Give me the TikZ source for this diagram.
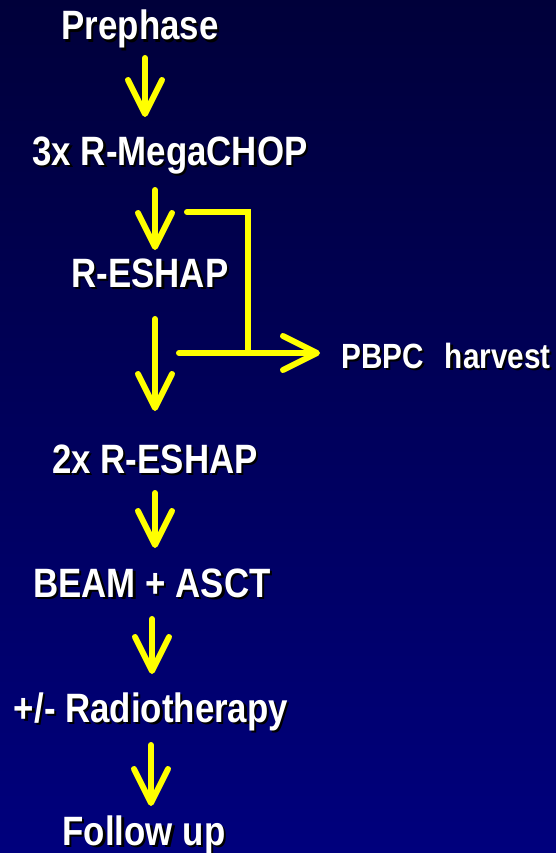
\documentclass[tikz,border=0pt]{standalone}
\usepackage{fontspec}
\setmainfont{Liberation Sans}[FakeStretch=0.85]
\usetikzlibrary{arrows.meta}
\definecolor{bgtop}{RGB}{0,0,58}
\definecolor{bgbot}{RGB}{0,0,125}
\definecolor{arrowyellow}{RGB}{255,255,0}
\newcommand\shadowtext[1]{\makebox[0pt][l]{\kern2.2pt\raisebox{-2.2pt}{\color{black}#1}}#1}
\begin{document}
\begin{tikzpicture}[x=1pt,y=-1pt,
  label/.style={anchor=base,inner sep=0pt,text=white,font=\bfseries\fontsize{41}{41}\selectfont},
  smalllabel/.style={label,font=\bfseries\fontsize{35}{35}\selectfont},
  flow/.style={draw=arrowyellow,line width=6pt,line cap=round,line join=round,
    -{Straight Barb[length=34pt,width=34pt,round]}},
  branch/.style={draw=arrowyellow,line width=6pt,line cap=round,line join=miter}]
\shade[top color=bgtop,bottom color=bgbot] (0,0) rectangle (556,853);
\useasboundingbox (0,0) rectangle (556,853);
\node[label] (pre)  at (140,40)  {\shadowtext{Prephase}};
\node[label] (mega) at (170,165) {\shadowtext{3x R-MegaCHOP}};
\node[label] (esh)  at (150,287) {\shadowtext{R-ESHAP}};
\node[smalllabel] (pbpc) at (446,368) {\shadowtext{PBPC\hspace{0.6em}harvest}};
\node[label] (esh2) at (155,473) {\shadowtext{2x R-ESHAP}};
\node[label] (beam) at (152,597) {\shadowtext{BEAM + ASCT}};
\node[label] (radio) at (151,722) {\shadowtext{+/- Radiotherapy}};
\node[label] (fol)  at (144,845) {\shadowtext{Follow up}};
% connector end points
\coordinate (a1s) at (145,58);  \coordinate (a1e) at (145,117);
\coordinate (a2s) at (155,190); \coordinate (a2e) at (155,250);
\coordinate (a3s) at (155,319); \coordinate (a3e) at (155,411);
\coordinate (a4s) at (155,493); \coordinate (a4e) at (155,548);
\coordinate (a5s) at (152,619); \coordinate (a5e) at (152,674);
\coordinate (a6s) at (151,745); \coordinate (a6e) at (151,806);
\coordinate (bs) at (187,212); \coordinate (bc) at (248,212); \coordinate (bj) at (248,353);
\coordinate (hs) at (179,353); \coordinate (he) at (320,353);
\draw[flow] (a1s) -- (a1e);
\draw[flow] (a2s) -- (a2e);
\draw[flow] (a3s) -- (a3e);
\draw[flow] (a4s) -- (a4e);
\draw[flow] (a5s) -- (a5e);
\draw[flow] (a6s) -- (a6e);
\draw[branch] (bs) -- (bc) -- (bj);
\draw[flow] (hs) -- (he);
\end{tikzpicture}
\end{document}
